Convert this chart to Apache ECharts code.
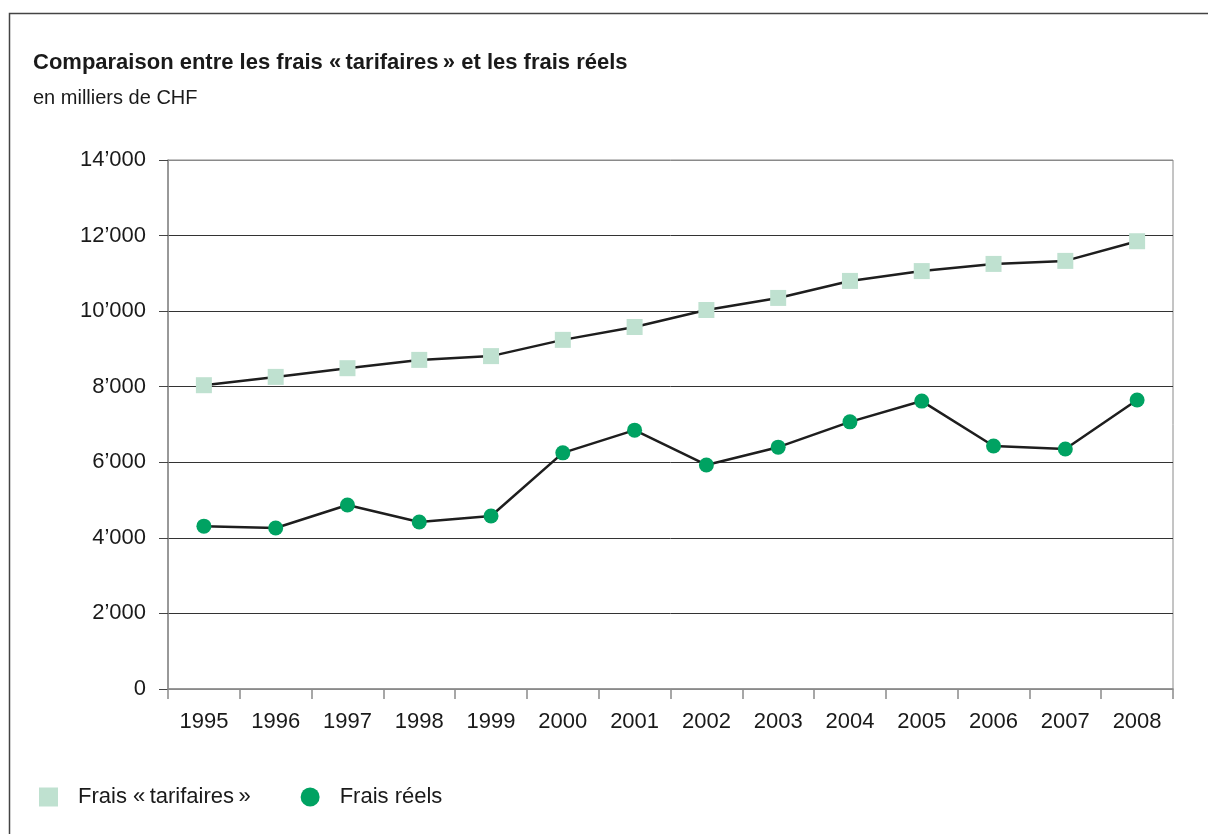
<!DOCTYPE html>
<html>
<head>
<meta charset="utf-8">
<script src="https://cdn.jsdelivr.net/npm/echarts@6/dist/echarts.min.js"></script>
<style>
html,body{margin:0;padding:0;background:#fff;}
#chart{width:1208px;height:834px;}
</style>
</head>
<body>
<div id="chart"></div>
<script>
const titleText = 'Comparaison entre les frais \u00ab\u202ftarifaires\u202f\u00bb et les frais réels';
const subtitleText = 'en milliers de CHF';
const years = ['1995','1996','1997','1998','1999','2000','2001','2002','2003','2004','2005','2006','2007','2008'];
const seriesTarifName = 'Frais \u00ab\u202ftarifaires\u202f\u00bb';
const seriesReelName = 'Frais réels';
const fraisTarifaires = [8040, 8260, 8490, 8710, 8810, 9240, 9580, 10030, 10350, 10800, 11060, 11250, 11330, 11850];
const fraisReels = [4310, 4260, 4870, 4420, 4580, 6250, 6850, 5930, 6400, 7070, 7620, 6430, 6350, 7650];
const yTicks = [0, 2000, 4000, 6000, 8000, 10000, 12000, 14000];

const fontFam = '"Liberation Sans", Arial, sans-serif';
const chart = echarts.init(document.getElementById('chart'));
function fmt(v){ return v === 0 ? '0' : (Math.floor(v/1000) + '\u2019' + String(v%1000).padStart(3,'0')); }

chart.setOption({
  animation: false,
  backgroundColor: '#fff',
  textStyle: { fontFamily: fontFam },
  graphic: [
    { type: 'rect', shape: { x: 9.5, y: 13.5, width: 1300, height: 1000 }, style: { fill: 'none', stroke: '#444', lineWidth: 1.5 } },
    { type: 'text', left: 33, top: 52, style: { text: titleText, font: 'bold 22px ' + fontFam, fill: '#1a1a1a' } },
    { type: 'text', left: 33, top: 88, style: { text: subtitleText, font: '20px ' + fontFam, fill: '#1a1a1a' } }
  ],
  grid: { left: 168, right: 35, top: 160, bottom: 145, show: true, borderColor: '#8a8a8a', borderWidth: 1 },
  legend: {
    left: 34, top: 781,
    itemWidth: 19, itemHeight: 19, itemGap: 50,
    textStyle: { fontSize: 22, color: '#1a1a1a', padding: [0, 0, 0, 15] },
    data: [ { name: seriesTarifName, icon: 'rect' }, { name: seriesReelName, icon: 'circle' } ]
  },
  xAxis: {
    type: 'category', data: years, boundaryGap: true,
    axisLine: { lineStyle: { color: '#8a8a8a', width: 1.5 } },
    axisTick: { show: true, length: 10, lineStyle: { color: '#8a8a8a', width: 1.5 } },
    axisLabel: { fontSize: 22, color: '#1a1a1a', margin: 22 },
    splitLine: { show: false }
  },
  yAxis: {
    type: 'value', min: 0, max: 14000, interval: 2000,
    axisLine: { show: true, lineStyle: { color: '#8a8a8a', width: 1.5 } },
    axisTick: { show: true, length: 9, lineStyle: { color: '#444', width: 1 } },
    axisLabel: { fontSize: 22, color: '#1a1a1a', margin: 22, formatter: fmt },
    splitLine: { show: true, lineStyle: { color: ['#8a8a8a','#333','#333','#333','#333','#333','#333','#8a8a8a'], width: 1 } }
  },
  series: [
    {
      name: seriesTarifName, type: 'line', data: fraisTarifaires,
      symbol: 'rect', symbolSize: 16,
      itemStyle: { color: '#bfe1d0' },
      lineStyle: { color: '#1e1e1e', width: 2.5 },
      z: 3
    },
    {
      name: seriesReelName, type: 'line', data: fraisReels,
      symbol: 'circle', symbolSize: 15,
      itemStyle: { color: '#00a262' },
      lineStyle: { color: '#1e1e1e', width: 2.5 },
      z: 3
    }
  ]
});
</script>
</body>
</html>
